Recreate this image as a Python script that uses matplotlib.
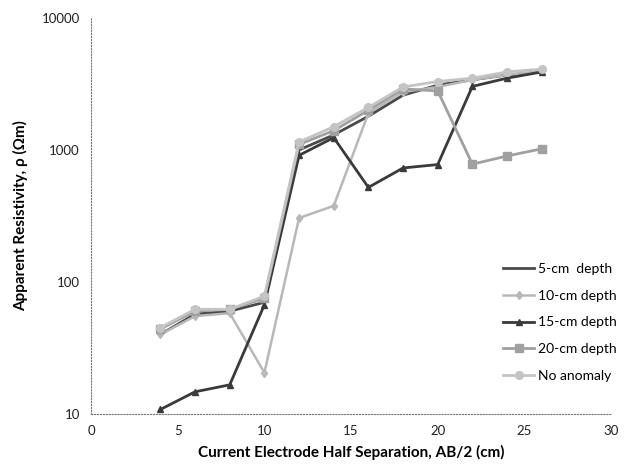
import matplotlib
matplotlib.use("Agg")
import matplotlib.pyplot as plt

plt.rcParams['font.family'] = ['Lato', 'DejaVu Sans']

x = [4, 6, 8, 10, 12, 14, 16, 18, 20, 22, 24, 26]
depth5 = [40, 57, 60, 70, 1000, 1300, 1800, 2600, 3100, 3400, 3700, 3900]
depth10 = [40, 55, 58, 20.5, 305, 377, 1900, 2750, 3000, 3400, 3700, 3950]
depth15 = [10.8, 14.7, 16.6, 67, 910, 1240, 520, 730, 775, 3030, 3500, 3900]
depth20 = [44, 60, 62, 75, 1100, 1400, 2000, 2900, 2800, 780, 900, 1020]
no_anomaly = [45, 62, 62, 78, 1150, 1500, 2100, 3000, 3300, 3500, 3900, 4100]

labels = ["5-cm  depth", "10-cm depth", "15-cm depth", "20-cm depth", "No anomaly"]

fig = plt.figure(figsize=(6.28, 4.73), dpi=100)
ax = fig.add_axes([0.145, 0.125, 0.828, 0.837])

ax.plot(x, depth5, color='#4a4a4a', lw=2.0, label=labels[0])
ax.plot(x, depth10, color='#b8b8b8', lw=1.8, marker='d', ms=4.5, label=labels[1])
ax.plot(x, depth15, color='#3a3a3a', lw=2.0, marker='^', ms=4.5, label=labels[2])
ax.plot(x, depth20, color='#a0a0a0', lw=2.0, marker='s', ms=5.5, label=labels[3])
ax.plot(x, no_anomaly, color='#c4c4c4', lw=2.0, marker='o', ms=5.5, label=labels[4])

ax.set_yscale('log')
ax.set_ylim(10, 10000)
ax.set_xlim(0, 30)
ax.set_xticks([0, 5, 10, 15, 20, 25, 30])
ax.set_yticks([10, 100, 1000, 10000])
ax.set_yticklabels(['10', '100', '1000', '10000'])
ax.minorticks_off()
ax.tick_params(length=0, labelsize=9.5, pad=8, colors='#222222')

for s in ['top', 'right']:
    ax.spines[s].set_visible(False)
for s in ['left', 'bottom']:
    ax.spines[s].set_linestyle(':')
    ax.spines[s].set_color('#777777')
    ax.spines[s].set_linewidth(0.8)

ax.set_xlabel('Current Electrode Half Separation, AB/2 (cm)', fontsize=11, fontweight='bold', labelpad=6)
ax.set_ylabel('Apparent Resistivity, ρ (Ωm)', fontsize=11, fontweight='bold', labelpad=10)

leg = ax.legend(loc='lower right', bbox_to_anchor=(1.035, 0.05), frameon=False, fontsize=10,
                handlelength=2.2, labelspacing=1.05, handletextpad=0.3)

fig.savefig('out.png', dpi=100)
